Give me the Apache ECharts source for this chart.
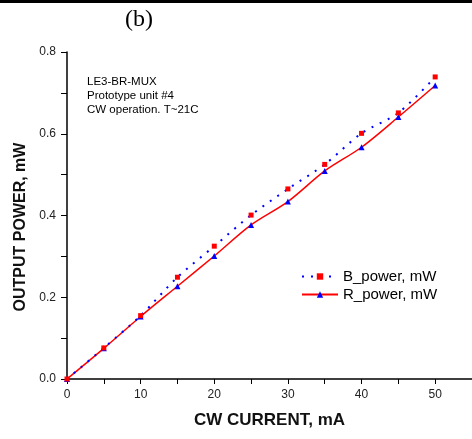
<!DOCTYPE html>
<html>
<head>
<meta charset="utf-8">
<script src="https://cdn.jsdelivr.net/npm/echarts@6/dist/echarts.min.js"></script>
<style>html,body{margin:0;padding:0;background:#fff}#c{width:472px;height:439px}</style>
</head>
<body>
<div id="c"></div>
<script>
var currents = [0, 5, 10, 15, 20, 25, 30, 35, 40, 45, 50];
var bPower = [0, 0.076, 0.155, 0.249, 0.325, 0.401, 0.465, 0.525, 0.601, 0.651, 0.739];
var rPower = [0, 0.075, 0.153, 0.227, 0.301, 0.377, 0.434, 0.509, 0.567, 0.641, 0.718];
var annotation = ['LE3-BR-MUX', 'Prototype unit #4', 'CW operation. T~21C'];

function pairs(xs, ys) { return xs.map(function (x, i) { return [x, ys[i]]; }); }

var chart = echarts.init(document.getElementById('c'), null, { renderer: 'canvas' });
var font = 'Arial, "Liberation Sans", sans-serif';
chart.setOption({
  animation: false,
  backgroundColor: '#fff',
  grid: { left: 67, top: 52, width: 405, height: 327, containLabel: false },
  xAxis: {
    type: 'value', min: 0, max: 55, interval: 10,
    name: 'CW CURRENT, mA', nameLocation: 'middle', nameGap: 33,
    nameTextStyle: { fontFamily: font, fontWeight: 'bold', fontSize: 17, color: '#111' },
    axisLine: { lineStyle: { color: '#000', width: 1.5 } },
    axisTick: { show: true, inside: false, length: 5, lineStyle: { color: '#000' } },
    minorTick: { show: true, splitNumber: 2, length: 5, lineStyle: { color: '#000' } },
    axisLabel: { fontFamily: font, fontSize: 12, color: '#222', margin: 10, showMaxLabel: false,
      formatter: function (v) { return v > 50 ? '' : String(v); } },
    splitLine: { show: false }
  },
  yAxis: {
    type: 'value', min: 0, max: 0.8, interval: 0.2,
    axisLine: { show: true, lineStyle: { color: '#000', width: 1.5 } },
    axisTick: { show: true, inside: false, length: 6, lineStyle: { color: '#000' } },
    minorTick: { show: true, splitNumber: 2, length: 6, lineStyle: { color: '#000' } },
    axisLabel: { fontFamily: font, fontSize: 12, color: '#222', margin: 11,
      formatter: function (v) { return v.toFixed(1); } },
    splitLine: { show: false }
  },
  legend: {
    orient: 'vertical', left: 296, top: 264, itemWidth: 36, itemHeight: 8, itemGap: 3,
    textStyle: { fontFamily: font, fontSize: 15, color: '#000' },
    data: ['B_power, mW', 'R_power, mW']
  },
  graphic: [
    { type: 'rect', shape: { x: 0, y: 0, width: 472, height: 3 }, style: { fill: '#000' }, z: 100 },
    { type: 'text', left: 125, top: 8, style: { text: '(b)', font: '24px "Liberation Serif", "Times New Roman", serif', fill: '#000' } },
    { type: 'text', left: 87, top: 75, style: { text: annotation.join('\n'), font: '11.5px Arial, "Liberation Sans", sans-serif', lineHeight: 14, fill: '#000' } },
    { type: 'text', x: 21, y: 227, rotation: Math.PI / 2,
      style: { text: 'OUTPUT POWER, mW', font: 'bold 16px Arial, "Liberation Sans", sans-serif', fill: '#111', align: 'center', verticalAlign: 'middle' } }
  ],
  series: [
    {
      name: 'B_power, mW', type: 'line', data: pairs(currents, bPower), smooth: 0.3,
      symbol: 'rect', symbolSize: 5,
      itemStyle: { color: '#ff0000' },
      lineStyle: { color: '#0000ff', width: 2, type: [2, 7] },
      z: 3
    },
    {
      name: 'R_power, mW', type: 'line', data: pairs(currents, rPower), smooth: 0.3,
      symbol: 'triangle', symbolSize: 6,
      itemStyle: { color: '#0000ff' },
      lineStyle: { color: '#ff0000', width: 1.5, type: 'solid' },
      z: 2
    }
  ]
});
</script>
</body>
</html>
